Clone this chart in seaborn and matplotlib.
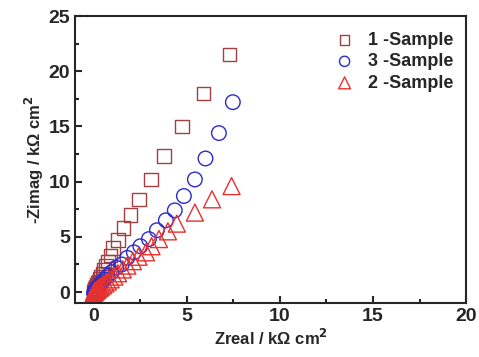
import matplotlib
matplotlib.use("Agg")
import matplotlib.pyplot as plt
import seaborn as sns
import pandas as pd
from matplotlib.ticker import MultipleLocator

s1_x = [7.3, 5.9, 4.75, 3.77, 3.06, 2.42, 1.98, 1.6, 1.3, 1.02, 0.9, 0.75, 0.65, 0.56, 0.48, 0.4, 0.33, 0.27, 0.22, 0.17, 0.13, 0.1, 0.07, 0.05, 0.03, 0.01]
s1_y = [21.5, 18.0, 15.0, 12.3, 10.2, 8.4, 7.0, 5.8, 4.7, 4.0, 3.3, 2.75, 2.35, 2.0, 1.7, 1.42, 1.18, 0.97, 0.8, 0.63, 0.5, 0.38, 0.27, 0.18, 0.1, 0.03]

s3_x = [7.47, 6.72, 6.0, 5.43, 4.84, 4.35, 3.87, 3.39, 2.96, 2.5, 2.15, 1.8, 1.5, 1.2, 0.95, 0.75, 0.58, 0.44, 0.32, 0.22, 0.14, 0.08, 0.04, 0.01]
s3_y = [17.2, 14.4, 12.1, 10.2, 8.7, 7.4, 6.5, 5.6, 4.8, 4.15, 3.6, 3.1, 2.5, 2.2, 1.8, 1.45, 1.15, 0.9, 0.68, 0.48, 0.3, 0.16, 0.06, -0.1]

s2_x = [7.4, 6.35, 5.43, 4.46, 3.98, 3.5, 3.1, 2.8, 2.4, 2.1, 1.8, 1.55, 1.3, 1.1, 0.9, 0.75, 0.62, 0.5, 0.4, 0.32, 0.25, 0.19, 0.14, 0.1, 0.07, 0.04, 0.02, 0.0]
s2_y = [9.6, 8.4, 7.2, 6.2, 5.5, 4.8, 4.15, 3.6, 3.2, 2.8, 2.4, 2.05, 1.7, 1.4, 1.15, 0.95, 0.78, 0.63, 0.5, 0.4, 0.31, 0.23, 0.16, 0.11, 0.07, 0.03, 0.0, -0.1]

labels = ["1 -Sample", "3 -Sample", "2 -Sample"]
colors = ["#a3403f", "#2b2bd0", "#e8302c"]
markers = ["s", "o", "^"]
sizes = [95, 110, 150]

sns.set_style("ticks")
plt.rcParams["font.family"] = ["Liberation Sans", "DejaVu Sans"]
plt.rcParams["font.weight"] = "bold"

fig = plt.figure(figsize=(4.79, 3.57), dpi=100)
ax = fig.add_axes([0.157, 0.151, 0.816, 0.804])

series = [(s1_x, s1_y), (s3_x, s3_y), (s2_x, s2_y)]
for (xs, ys), lab, col, mk, sz in zip(series, labels, colors, markers, sizes):
    df = pd.DataFrame({"x": xs, "y": ys})
    sns.scatterplot(data=df, x="x", y="y", ax=ax, marker=mk, s=sz,
                    facecolor="none", edgecolor=col, linewidth=1.0, label=lab)

for coll, col in zip(ax.collections, colors):
    coll.set_facecolor("none")
    coll.set_edgecolor(col)

ax.set_xlim(-1, 20)
ax.set_ylim(-1, 25)
ax.xaxis.set_major_locator(MultipleLocator(5))
ax.xaxis.set_minor_locator(MultipleLocator(2.5))
ax.yaxis.set_major_locator(MultipleLocator(5))
ax.yaxis.set_minor_locator(MultipleLocator(2.5))
ax.tick_params(which="both", direction="in", width=1.5, top=False, right=False)
ax.tick_params(which="major", length=5, labelsize=14)
ax.tick_params(which="minor", length=3)
for lab in ax.get_xticklabels() + ax.get_yticklabels():
    lab.set_fontweight("bold")
for sp in ax.spines.values():
    sp.set_linewidth(1.5)
    sp.set_visible(True)

ax.set_xlabel("Zreal / k\u03a9 cm$^\\mathbf{2}$", fontsize=12, fontweight="bold", labelpad=2)
ax.set_ylabel("-Zimag / k\u03a9 cm$^\\mathbf{2}$", fontsize=12, fontweight="bold", labelpad=2)

leg = ax.legend(loc="upper right", bbox_to_anchor=(1.0, 0.99), frameon=False,
                fontsize=13, handletextpad=0.3, borderaxespad=0.3,
                labelspacing=0.25, markerscale=0.7)
for h, col in zip(leg.legend_handles, colors):
    h.set_facecolor("none")
    h.set_edgecolor(col)
for t in leg.get_texts():
    t.set_fontweight("bold")

fig.savefig("out.png", dpi=100)
